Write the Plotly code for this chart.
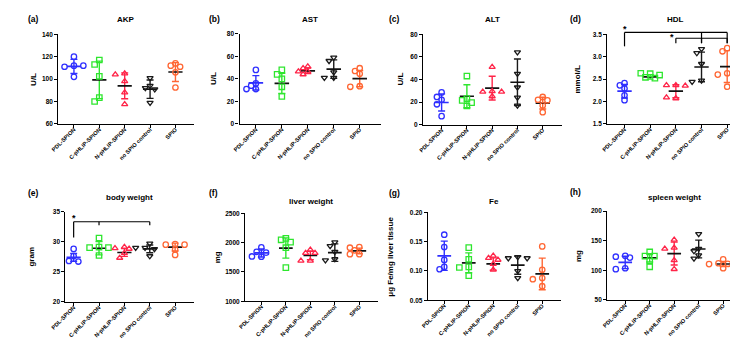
import numpy as np
import plotly.graph_objects as go

W, H = 738, 340

categories = ["PDL-SPION", "C-pHLIP-SPION", "N-pHLIP-SPION", "no SPIO control", "SPIO"]

# ---------------- data ----------------
akp_points = [[120, 112, 111, 112, 102], [117, 113, 102.5, 83.5, 80], [105, 104, 98, 88, 77.5],
              [101, 94, 92, 91, 79], [114, 112, 111, 106, 92.5]]
akp_mean = [111.3, 99.3, 94, 91, 106.3]
akp_sd = [6.3, 16.7, 11.5, 8.2, 8.4]

ast_points = [[48, 36, 31, 31, 34], [48, 44, 40, 33, 24.5], [51, 49.5, 46.5, 46.5, 44],
              [59, 56, 46, 41, 41], [49.5, 47, 44.5, 33.5, 33]]
ast_mean = [36.5, 36, 47.2, 48.7, 40.2]
ast_sd = [6.4, 9, 2.5, 8.2, 7.2]

alt_points = [[28.5, 24.5, 22, 18, 7.5], [43, 23, 21.5, 19.5, 16.5], [51, 29.5, 29, 29, 25],
              [64, 45, 33, 24, 17], [24.5, 22, 21.5, 17, 11]]
alt_mean = [19.6, 25.1, 32.3, 37.5, 19]
alt_sd = [7.6, 10.2, 10.5, 20.6, 5.2]

hdl_points = [[2.41, 2.36, 2.29, 2.14, 2.03], [2.62, 2.63, 2.59, 2.54, 2.52], [2.36, 2.36, 2.35, 2.07, 2.09],
              [3.17, 3.08, 2.84, 2.47, 2.44], [3.19, 3.12, 2.63, 2.60, 2.33]]
hdl_mean = [2.23, 2.55, 2.23, 2.77, 2.78]
hdl_sd = [0.15, 0.05, 0.145, 0.33, 0.355]

bw_points = [[28.8, 27.6, 27.4, 26.8, 26.7], [30.6, 29.1, 29.0, 29.0, 27.7], [29.1, 28.9, 28.8, 28.1, 27.3],
             [29.7, 29.0, 28.8, 29.0, 27.6], [29.6, 29.5, 29.5, 28.7, 27.8]]
bw_mean = [27.4, 28.9, 28.2, 28.8, 29.1]
bw_sd = [0.65, 1.1, 0.65, 0.65, 0.65]

liver_points = [[1920, 1845, 1830, 1760, 1765], [2075, 2050, 2010, 1915, 1575], [1880, 1825, 1825, 1690, 1690],
                [2010, 1945, 1845, 1720, 1700], [1925, 1915, 1870, 1805, 1805]]
liver_mean = [1825, 1909, 1781, 1831, 1859]
liver_sd = [70, 173, 72, 150, 48]

fe_points = [[0.162, 0.141, 0.119, 0.107, 0.103], [0.140, 0.120, 0.107, 0.106, 0.092],
             [0.126, 0.122, 0.119, 0.112, 0.102], [0.124, 0.122, 0.122, 0.100, 0.088],
             [0.142, 0.102, 0.088, 0.086, 0.074]]
fe_mean = [0.126, 0.114, 0.112, 0.110, 0.095]
fe_sd = [0.025, 0.017, 0.0105, 0.0155, 0.027]

spleen_points = [[124.5, 123, 121.5, 103.5, 102], [131, 124, 124, 116, 106], [151.5, 138, 136.5, 117, 102],
                 [161.5, 136.5, 132.5, 125.5, 120], [118.5, 112, 111, 110.5, 103.5]]
spleen_mean = [113.4, 121, 128.3, 136, 110.7]
spleen_sd = [10.5, 7, 19.3, 15, 4.5]

titles = ["AKP", "AST", "ALT", "HDL", "body weight", "liver weight", "Fe", "spleen weight"]
labels = ["(a)", "(b)", "(c)", "(d)", "(e)", "(f)", "(g)", "(h)"]
y_titles = ["U/L", "U/L", "U/L", "mmol/L", "gram", "mg", "μg Fe/mg liver tissue", "mg"]
y_ranges = [[60, 140], [0, 80], [0, 80], [1.5, 3.5], [20, 35], [1000, 2500], [0.05, 0.20], [50, 200]]
y_dticks = [20, 20, 20, 0.5, 5, 500, 0.05, 50]
y_formats = ["", "", "", ".1f", "", "", ".2f", ""]

# significance brackets: (from group, to groups, line value, leg end of first, leg end of others)
hdl_brackets = [(0, [3, 4], 3.54, 3.23, 3.30), (2, [3, 4], 3.41, 3.30, 3.30)]
hdl_stars = [(0, 3.62), (1.85, 3.44)]
bw_brackets = [(0, [1, 3], 33.3, 30.7, 32.7)]
bw_stars = [(0, 34.0)]

panel_points = [akp_points, ast_points, alt_points, hdl_points, bw_points, liver_points, fe_points, spleen_points]
panel_means = [akp_mean, ast_mean, alt_mean, hdl_mean, bw_mean, liver_mean, fe_mean, spleen_mean]
panel_sds = [akp_sd, ast_sd, alt_sd, hdl_sd, bw_sd, liver_sd, fe_sd, spleen_sd]

# ---------------- styles / geometry (pixels) ----------------
colors = ["#2f2fff", "#2ee62e", "#ff2448", "#1a1a1a", "#ff6633"]
mean_colors = ["#2f2fff", "#111111", "#111111", "#111111", "#111111"]
symbols = ["circle-open", "square-open", "triangle-up-open", "triangle-down-open", "circle-open"]

# x0 (axis left), c0 (first category), s (category spacing), x1 (axis right), ytop, ybot
geom = [
    (36.0, 52.0, 25.9, 175.0, 22.7, 114.3),
    (221.0, 237.7, 26.5, 365.0, 22.3, 114.3),
    (408.3, 427.3, 25.8, 550.0, 22.7, 115.0),
    (596.3, 614.0, 26.2, 735.5, 22.7, 114.3),
    (43.3, 51.7, 25.9, 175.0, 203.7, 296.0),
    (226.7, 243.3, 25.0, 362.0, 205.7, 295.3),
    (413.3, 430.0, 25.0, 549.0, 204.7, 294.3),
    (596.3, 614.7, 25.0, 733.0, 203.3, 294.0),
]
ytitle_x = [10, 195, 385, 566, 9, 198, 375, 567]
label_pos = [(3, 7), (188, 7), (372, 7), (556, 7), (3, 185), (188, 185), (372, 185), (556, 184)]
title_y = [8, 8, 8, 8, 189, 193, 193, 189]

FONT = "Arial, Liberation Sans, sans-serif"
fig = go.Figure()
shapes = []
annotations = []


def x_range(g):
    x0, c0, s, x1, _, _ = g
    return [(x0 - c0) / s, (x1 - c0) / s]


def to_paper(g, yr, xv, yv):
    x0, c0, s, x1, yt, yb = g
    px = c0 + xv * s
    py = yb - (yv - yr[0]) / (yr[1] - yr[0]) * (yb - yt)
    return px / W, 1 - py / H


def swarm(vals, ppu, d):
    placed, offs = [], []
    for v in vals:
        ox = 0.0
        for k in [0, -1, 1, -2, 2, -3, 3]:
            ox = k * d * 0.8
            if all((ox - p) ** 2 + ((v - pv) * ppu) ** 2 >= d * d * 0.7 for p, pv in placed):
                break
        placed.append((ox, v))
        offs.append(ox)
    return offs


for p in range(8):
    g = geom[p]
    x0, c0, s, x1, yt, yb = g
    yr = y_ranges[p]
    xa = "x" if p == 0 else f"x{p + 1}"
    ya = "y" if p == 0 else f"y{p + 1}"
    ppu = (yb - yt) / (yr[1] - yr[0])
    for i in range(5):
        col = colors[i]
        m, sd = panel_means[p][i], panel_sds[p][i]
        fig.add_trace(go.Scatter(
            x=[i], y=[m], mode="markers", marker=dict(opacity=0, size=1),
            error_y=dict(type="data", array=[sd], color=col, thickness=1.4, width=3.5),
            xaxis=xa, yaxis=ya, showlegend=False, hoverinfo="skip"))
        fig.add_trace(go.Scatter(
            x=[i - 0.28, i + 0.28], y=[m, m], mode="lines",
            line=dict(color=mean_colors[i], width=1.7),
            xaxis=xa, yaxis=ya, showlegend=False, hoverinfo="skip"))
        vals = panel_points[p][i]
        offs = swarm(vals, ppu, 6.0)
        fig.add_trace(go.Scatter(
            x=[i + o / s for o in offs], y=vals, mode="markers",
            marker=dict(symbol=symbols[i], size=5.4, color=col, line=dict(color=col, width=1.3)),
            xaxis=xa, yaxis=ya, showlegend=False, cliponaxis=False))

    xkey = "xaxis" if p == 0 else f"xaxis{p + 1}"
    ykey = "yaxis" if p == 0 else f"yaxis{p + 1}"
    fig.layout[xkey] = dict(
        domain=[x0 / W, x1 / W], range=x_range(g), anchor=ya,
        tickmode="array", tickvals=list(range(5)), ticktext=categories, tickangle=-45,
        showline=True, linecolor="black", linewidth=1.2, ticks="outside", ticklen=3,
        tickwidth=1.2, tickcolor="black", showgrid=False, zeroline=False,
        tickfont=dict(family=FONT, size=5.7, color="black", weight="bold"), fixedrange=True)
    try:
        fig.layout[xkey].ticklabelstandoff = -4
    except Exception:
        pass
    fig.layout[ykey] = dict(
        domain=[1 - yb / H, 1 - yt / H], range=yr, anchor=xa, dtick=y_dticks[p], tick0=yr[0],
        tickformat=y_formats[p],
        showline=True, linecolor="black", linewidth=1.2, ticks="outside", ticklen=3,
        tickwidth=1.2, tickcolor="black", showgrid=False, zeroline=False,
        tickfont=dict(family=FONT, size=6.5, color="black", weight="bold"), fixedrange=True)

    annotations.append(dict(
        text=y_titles[p], x=ytitle_x[p] / W, y=1 - (yt + yb) / 2 / H, xref="paper", yref="paper",
        textangle=-90, showarrow=False, xanchor="center", yanchor="middle",
        font=dict(family=FONT, size=8, color="black", weight="bold")))
    annotations.append(dict(
        text=titles[p], x=(x0 + x1) / 2 / W, y=1 - title_y[p] / H, xref="paper", yref="paper",
        showarrow=False, xanchor="center", yanchor="middle",
        font=dict(family=FONT, size=8, color="black", weight="bold")))
    annotations.append(dict(
        text=labels[p], x=label_pos[p][0] / W, y=1 - label_pos[p][1] / H, xref="paper", yref="paper",
        showarrow=False, xanchor="left", yanchor="middle",
        font=dict(family=FONT, size=8.5, color="black", weight="bold")))


def add_brackets(p, brackets, stars):
    g, yr = geom[p], y_ranges[p]
    for (a, others, yline, leg_a, leg_o) in brackets:
        xa_, yl = to_paper(g, yr, a, yline)
        xb_, _ = to_paper(g, yr, max(others), yline)
        shapes.append(dict(type="line", xref="paper", yref="paper", x0=xa_, x1=xb_, y0=yl, y1=yl,
                           line=dict(color="black", width=1.2)))
        _, ya_end = to_paper(g, yr, a, leg_a)
        shapes.append(dict(type="line", xref="paper", yref="paper", x0=xa_, x1=xa_, y0=yl, y1=ya_end,
                           line=dict(color="black", width=1.2)))
        for o in others:
            xo, yo_end = to_paper(g, yr, o, leg_o)
            shapes.append(dict(type="line", xref="paper", yref="paper", x0=xo, x1=xo, y0=yl, y1=yo_end,
                               line=dict(color="black", width=1.2)))
    for (sx, sy) in stars:
        px_, py_ = to_paper(g, yr, sx, sy)
        annotations.append(dict(text="*", x=px_, y=py_, xref="paper", yref="paper", showarrow=False,
                                xanchor="center", yanchor="middle",
                                font=dict(family=FONT, size=9, color="black", weight="bold")))


add_brackets(3, hdl_brackets, hdl_stars)
add_brackets(4, bw_brackets, bw_stars)

fig.update_layout(
    width=W, height=H, margin=dict(l=0, r=0, t=0, b=0),
    paper_bgcolor="white", plot_bgcolor="white", showlegend=False,
    shapes=shapes, annotations=annotations,
)
fig.write_html("out.html")
